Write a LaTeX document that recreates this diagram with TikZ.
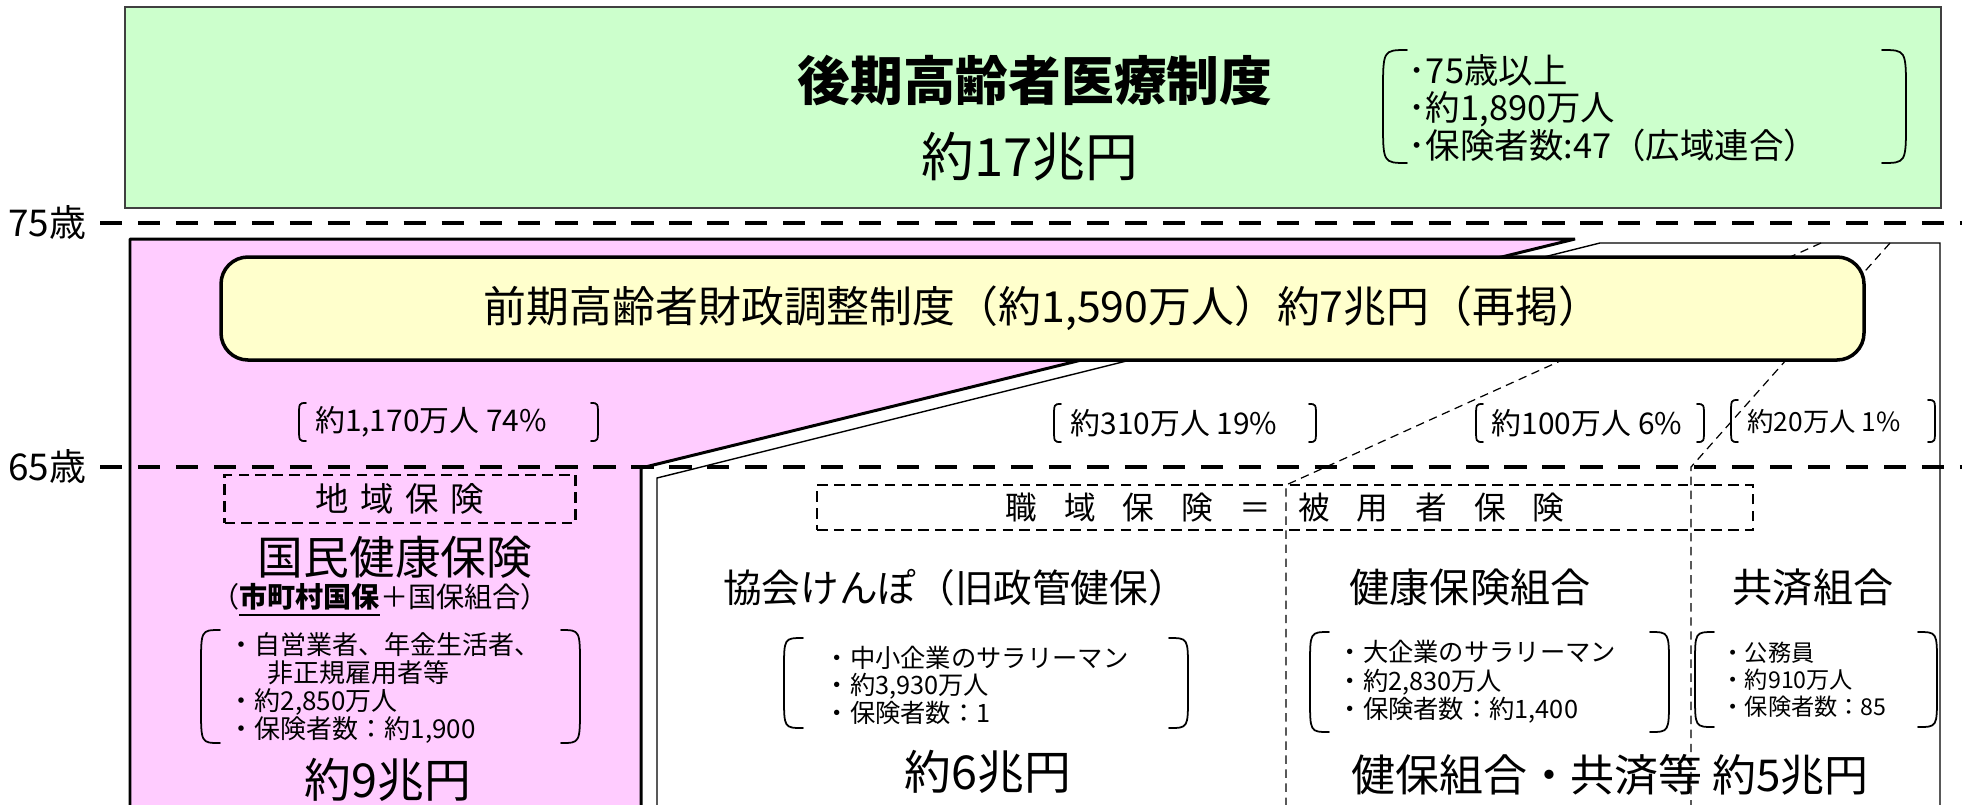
\documentclass[tikz,border=0pt]{standalone}
\usepackage{fontspec}
\setmainfont{Noto Sans CJK JP}
\definecolor{greenfill}{HTML}{CCFFCC}
\definecolor{pinkfill}{HTML}{FFCCFF}
\definecolor{yellowfill}{HTML}{FFFFCC}
\newcommand{\fsz}[2]{\fontsize{#1}{#2}\selectfont}
% left x, right x, top y, bottom y, hook width, hook height (px)
\newcommand{\parens}[6]{%
  \draw[brk] ({#1+#5},#3) .. controls (#1,#3) .. (#1,{#3+#6}) -- (#1,{#4-#6})
     .. controls (#1,#4) .. ({#1+#5},#4);
  \draw[brk] ({#2-#5},#3) .. controls (#2,#3) .. (#2,{#3+#6}) -- (#2,{#4-#6})
     .. controls (#2,#4) .. ({#2-#5},#4);}
\begin{document}
\begin{tikzpicture}[x=0.1mm,y=-0.1mm,
  txt/.style={inner sep=0pt, anchor=center},
  list/.style={inner sep=0pt, anchor=west, align=left},
  agebar/.style={line width=1.2pt, dash pattern=on 6.3pt off 4.5pt},
  boxdash/.style={draw, line width=0.75pt, dash pattern=on 3pt off 1.8pt, inner sep=0pt},
  divider/.style={line width=0.35pt, dash pattern=on 2.4pt off 1.6pt},
  brk/.style={line width=0.5pt, line cap=round},
]
\clip (0,0) rectangle (1962,804);
\fill[white] (0,0) rectangle (1962,804);

% ---- late elderly box
\node[draw=black!75, line width=0.45pt, fill=greenfill, minimum width=181.6mm,
      minimum height=20.1mm, inner sep=0pt] (green) at (1033,107.5) {};

% ---- regions
\draw[line width=0.85pt, line join=bevel, fill=pinkfill]
  (130,239) -- (1575,239) -- (641,468) -- (641,840) -- (130,840) -- cycle;
\draw[line width=0.4pt, fill=white]
  (1600,243) -- (1940,243) -- (1940,840) -- (657,840) -- (657,478) -- cycle;

% ---- dividers
\coordinate (a1) at (1821,243);
\coordinate (a2) at (1286,485);
\coordinate (a3) at (1286,840);
\coordinate (b1) at (1890,243);
\coordinate (b2) at (1691,467);
\coordinate (b3) at (1691,840);
\draw[divider] (a1) -- (a2) -- (a3);
\draw[divider] (b1) -- (b2) -- (b3);

% ---- early elderly adjustment
\node[draw, line width=1pt, fill=yellowfill, rounded corners=2.7mm,
      minimum width=164.3mm, minimum height=10.3mm, inner sep=0pt,
      font=\fsz{12.2}{14}] (yellow) at (1042.5,308.5)
  {前期高齢者財政調整制度（約1,590万人）約7兆円（再掲）};

% ---- age lines
\node[txt, anchor=east, font=\fsz{10.5}{12}] (age75) at (87,223) {75歳};
\node[txt, anchor=east, font=\fsz{10.5}{12}] (age65) at (87,467) {65歳};
\draw[agebar] (age75.east) ++(13,0) -- (1962,223);
\draw[agebar] (age65.east) ++(13,0) -- (1962,467);

% ---- top texts
\node[txt, font=\fsz{15}{18}\bfseries] (t1) at (1035,80) {後期高齢者医療制度};
\node[txt, font=\fsz{15}{18}] (t2) at (1030,157) {約17兆円};
\node[list, font=\fsz{9.8}{10.6}] (t3) at (1408,108)
  {･75歳以上\\･約1,890万人\\･保険者数:47（広域連合）};
\parens{1383}{1906}{50}{163}{24}{42}

% ---- percentages
\node[txt, font=\fsz{8.5}{10}] (p1) at (431,422) {約1,170万人 74\%};
\parens{299}{598}{403}{441}{7}{14}
\node[txt, font=\fsz{8.5}{10}] (p2) at (1174,423) {約310万人 19\%};
\parens{1054}{1316}{404}{442}{7}{14}
\node[txt, font=\fsz{8.5}{10}] (p3) at (1587,423) {約100万人 6\%};
\parens{1476}{1704}{404}{442}{7}{14}
\node[txt, font=\fsz{7.5}{9}] (p4) at (1824,421) {約20万人 1\%};
\parens{1731}{1935}{400}{442}{7}{14}

% ---- regional insurance
\node[boxdash, minimum width=35.1mm, minimum height=4.8mm, font=\fsz{9.5}{10}]
  (chiiki) at (400,499) {地\hspace{0.35em}域\hspace{0.35em}保\hspace{0.35em}険};
\node[txt, font=\fsz{13}{15}] (kokuho) at (395,557) {国民健康保険};
\node[txt, font=\fsz{8}{10}] (kokuhosub) at (380,600)
  {（\underline{\textbf{市町村国保}}＋国保組合）};
\node[list, font=\fsz{7.4}{7.9}] (kokuholist) at (228,688)
  {・自営業者、年金生活者、\\\hspace*{1.5em}非正規雇用者等\\・約2,850万人\\・保険者数：約1,900};
\parens{201}{580}{630}{743}{19}{36}
\node[txt, font=\fsz{13.3}{15}] (kokuhoyen) at (388,780) {約9兆円};

% ---- employee insurance
\node[boxdash, minimum width=93.6mm, minimum height=4.5mm, font=\fsz{9}{10}]
  (shokuiki) at (1285,507.5)
  {職\hspace{0.85em}域\hspace{0.85em}保\hspace{0.85em}険\hspace{0.85em}＝\hspace{0.85em}被\hspace{0.85em}用\hspace{0.85em}者\hspace{0.85em}保\hspace{0.85em}険};
\node[txt, font=\fsz{11}{13}] (kyokai) at (955,588) {協会けんぽ（旧政管健保）};
\node[list, font=\fsz{7.2}{7.8}] (kyokailist) at (824,685)
  {・中小企業のサラリーマン\\・約3,930万人\\・保険者数：1};
\parens{784}{1188}{638}{728}{19}{32}
\node[txt, font=\fsz{13.3}{15}] (kyokaiyen) at (988,772) {約6兆円};

\node[txt, font=\fsz{11.4}{13}] (kenpo) at (1470,587) {健康保険組合};
\node[txt, font=\fsz{11.4}{13}] (kyosai) at (1813,587) {共済組合};
\node[list, font=\fsz{7.2}{8.1}] (kenpolist) at (1337,682)
  {・大企業のサラリーマン\\・約2,830万人\\・保険者数：約1,400};
\parens{1310}{1669}{632}{732}{19}{34}
\node[list, font=\fsz{6.6}{7.7}] (kyosailist) at (1721,680)
  {・公務員\\・約910万人\\・保険者数：85};
\parens{1695}{1937}{632}{727}{19}{32}
\node[txt, font=\fsz{12.5}{14}] (kenpoyen) at (1610,775) {健保組合・共済等 約5兆円};
\end{tikzpicture}
\end{document}
